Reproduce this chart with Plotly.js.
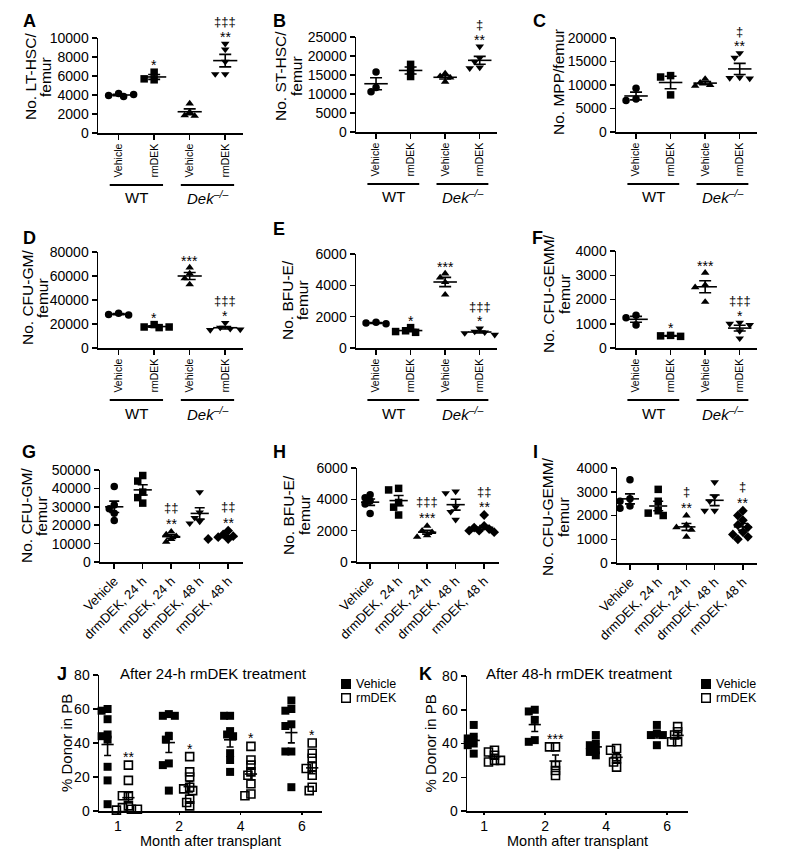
<!DOCTYPE html>
<html><head><meta charset="utf-8">
<script src="https://cdn.plot.ly/plotly-3.0.1.min.js"></script>
<style>body{margin:0;background:#fff}#chart{width:785px;height:857px}</style>
</head><body><div id="chart"></div>
<script>
// ---------- DATA ----------
const groupsAF = ["Vehicle","rmDEK","Vehicle","rmDEK"];
const groupsGI = ["Vehicle","drmDEK, 24 h","rmDEK, 24 h","drmDEK, 48 h","rmDEK, 48 h"];
const months = ["1","2","4","6"];

const ltHsc  = [[4150,3950,3850,4050],[6400,5600,5700],[3100,2200,1850,1800],[9400,8800,7500,6200,6200]];
const stHsc  = [[15800,11700,10600],[17800,16200,14600],[15400,14700,14300,13200],[22500,19500,18500,17000,16800]];
const mpp    = [[9300,7000,6700],[12000,11700,7900],[11300,10500,10000,9800],[16800,15800,11600,11500,11400]];
const cfuGmD = [[29000,28000,27500],[19500,17500,17000,17500],[67000,62000,58000,53000],[21000,17000,16000,15000,15500]];
const bfuED  = [[1650,1600,1550],[1300,1100,1000,1050],[4750,4500,4200,3400],[1250,1050,1000,950,850]];
const gemmD  = [[1350,1250,950],[520,500,480],[3100,2600,2500,1900],[1050,1000,950,700,400]];
const cfuGmG = [[41000,31000,29000,26500,22500],[47000,44000,38000,35000,32000],[16500,15000,14000,12500,11000],[38000,27000,24000,22000,21000],[17000,15000,14000,13500,13000,12500,12500,13000]];
const bfuEH  = [[4300,4100,3900,3700,3100],[4700,4600,3800,3500,3000],[2300,2000,1900,1700,1600],[4500,4400,3500,3200,2700],[3000,2300,2200,2100,2000,2000,1900,2200]];
const gemmI  = [[3500,2700,2600,2400,2300],[3100,2600,2200,2100,2000],[2000,1600,1500,1400,1100],[3400,2800,2600,2200,2200],[2200,2000,1800,1600,1500,1300,1200,1100,1000]];

const starsA=["","*","","**"], dagA=["","","","‡‡‡"];
const starsB=["","","","**"], dagB=["","","","‡"];
const starsC=["","","","**"], dagC=["","","","‡"];
const starsDEF=["","*","***","*"], dagDEF=["","","","‡‡‡"];
const starsG=["","","**","","**"], dagG=["","","‡‡","","‡‡"];
const starsH=["","","***","","**"], dagH=["","","‡‡‡","","‡‡"];
const starsI=["","","**","","**"], dagI=["","","‡","","‡"];

const jVehicle = [[60,59,54,45,44,42,26,18,4],[57,56,56,44,42,28,27,12],[56,56,47,45,44,34,30,23],[65,60,59,51,50,35,35,14]];
const jRmdek   = [[27,18,9,9,3,2,1,1,0.5],[32,23,20,14,13,12,7,5,3],[38,30,27,23,21,16,10,9],[40,34,31,26,25,21,14,12]];
const kVehicle = [[51,44,43,40,39,34],[60,59,54,42,41],[45,40,39,36,35,33],[51,46,45,45,39]];
const kRmdek   = [[36,35,33,30,29,30],[38,38,27,24,21],[37,36,31,29,26],[50,47,45,41,41]];
const starsJ = ["**","*","*","*"];
const starsK = ["","***","",""];

// ---------- LAYOUT HELPERS ----------
const W=785,H=857;
const FONT='Arial, "Liberation Sans", sans-serif';
const layout={width:W,height:H,margin:{l:0,r:0,t:0,b:0},paper_bgcolor:'#fff',plot_bgcolor:'rgba(0,0,0,0)',
  showlegend:false,font:{family:FONT,color:'#000'},annotations:[],shapes:[]};
const traces=[];
let axN=0;
const mean=a=>a.reduce((s,v)=>s+v,0)/a.length;
const sem=a=>{const m=mean(a);return Math.sqrt(a.reduce((s,v)=>s+(v-m)*(v-m),0)/(a.length-1)/a.length);};

function swarm(vals,cx,pxX,pxY,md,step){
  const placed=[],xs=[];
  vals.forEach(v=>{
    const py=v*pxY;let off=0;
    for(let k=0;k<60;k++){
      off=(k===0)?0:((k%2?-1:1)*Math.ceil(k/2)*step);
      if(placed.every(p=>Math.hypot(p[0]-off,p[1]-py)>=md))break;
    }
    placed.push([off,py]);xs.push(cx+off/pxX);
  });
  return xs;
}

function addAxes(p){
  axN++;
  const xa=axN===1?'xaxis':'xaxis'+axN, ya=axN===1?'yaxis':'yaxis'+axN;
  const xr=axN===1?'x':'x'+axN, yr=axN===1?'y':'y'+axN;
  const yt=[];for(let v=0;v<=p.ymax+1e-9;v+=p.dtick)yt.push(v);
  const common={showline:true,linewidth:1.5,linecolor:'#000',ticks:'outside',ticklen:5,tickwidth:1.5,tickcolor:'#000',
    showgrid:false,zeroline:false,fixedrange:true};
  layout[xa]=Object.assign({},common,{domain:[p.x0/W,p.x1/W],anchor:yr,range:p.xrange,tickvals:p.tickvals,ticktext:p.ticktext,
    tickangle:p.tickangle,ticklen:p.xticklen||5,tickfont:{size:p.xfs,family:FONT,color:'#000'}});
  layout[ya]=Object.assign({},common,{domain:[1-p.y1/H,1-p.y0/H],anchor:xr,range:[0,p.ymax],tickvals:yt,tickformat:'d',
    tickfont:{size:14,family:FONT,color:'#000'}});
  return {xr,yr,pxX:(p.x1-p.x0)/(p.xrange[1]-p.xrange[0]),pxY:(p.y1-p.y0)/p.ymax};
}

function addGroup(ax,vals,cx,sym,ms,hw,capw,spread,open,mdf){
  const xs=swarm(vals,cx,ax.pxX,ax.pxY,ms*(mdf||0.75),spread);
  traces.push({x:xs,y:vals,xaxis:ax.xr,yaxis:ax.yr,mode:'markers',cliponaxis:false,hoverinfo:'skip',
    marker:open?{symbol:sym,size:ms,color:'#000',line:{width:1.6,color:'#000'}}:{symbol:sym,size:ms,color:'#000',line:{width:0}}});
  const m=mean(vals),s=sem(vals);
  traces.push({x:[cx-hw,cx+hw],y:[m,m],xaxis:ax.xr,yaxis:ax.yr,mode:'lines',line:{color:'#000',width:1.6},hoverinfo:'skip',cliponaxis:false});
  traces.push({x:[cx],y:[m],xaxis:ax.xr,yaxis:ax.yr,mode:'markers',marker:{size:1,color:'rgba(0,0,0,0)'},hoverinfo:'skip',cliponaxis:false,
    error_y:{type:'data',array:[s],visible:true,color:'#000',thickness:1.6,width:capw}});
}

function sigLabel(ax,cx,top,txt,shift,size){
  if(!txt)return;
  layout.annotations.push({x:cx,y:top,xref:ax.xr,yref:ax.yr,text:txt,showarrow:false,xanchor:'center',yanchor:'middle',yshift:shift,
    font:{size:size,family:FONT,color:'#000'}});
}
function pAnn(x,y,txt,size,opts){
  layout.annotations.push(Object.assign({x:x/W,y:1-y/H,xref:'paper',yref:'paper',text:txt,showarrow:false,
    xanchor:'center',yanchor:'middle',font:{size:size,family:FONT,color:'#000'}},opts||{}));
}
const TFS=15.5;

// ---------- PANELS A-F ----------
const symAF=['circle','square','triangle-up','triangle-down'];
const panelsAF=[
 {L:'A',data:ltHsc,st:starsA,dg:dagA,ymax:10000,dtick:2000,x0:98,x1:243,y0:38,y1:133,t1:'No. LT-HSC/',t2:'femur',tx:[30,45],ty:77,lx:29,ly:21},
 {L:'B',data:stHsc,st:starsB,dg:dagB,ymax:25000,dtick:5000,x0:356,x1:497,y0:37,y1:132,t1:'No. ST-HSC/',t2:'femur',tx:[280,296],ty:76,lx:279,ly:21},
 {L:'C',data:mpp,st:starsC,dg:dagC,ymax:20000,dtick:5000,x0:616,x1:757,y0:38,y1:132,t1:'No. MPP/femur',t2:'',tx:[559],ty:82,lx:539,ly:21},
 {L:'D',data:cfuGmD,st:starsDEF,dg:dagDEF,ymax:80000,dtick:20000,x0:98,x1:243,y0:252,y1:348,t1:'No. CFU-GM/',t2:'femur',tx:[27,42],ty:298,lx:29,ly:238},
 {L:'E',data:bfuED,st:starsDEF,dg:dagDEF,ymax:6000,dtick:2000,x0:356,x1:497,y0:254,y1:348,t1:'No. BFU-E/',t2:'femur',tx:[287,302],ty:300,lx:279,ly:229},
 {L:'F',data:gemmD,st:starsDEF,dg:dagDEF,ymax:4000,dtick:1000,x0:616,x1:757,y0:251,y1:348,t1:'No. CFU-GEMM/',t2:'femur',tx:[549,565],ty:294,lx:537,ly:238},
];
panelsAF.forEach(p=>{
  const ax=addAxes(Object.assign({},p,{xrange:[-0.58,3.5],tickvals:[0,1,2,3],ticktext:groupsAF,tickangle:-90,xfs:10.5}));
  p.data.forEach((vals,g)=>{
    addGroup(ax,vals,g,symAF[g],7.5,0.34,6,5,false);
    const top=Math.max(...vals);
    sigLabel(ax,g,top,p.st[g],7,14);
    sigLabel(ax,g,top,p.dg[g],22,13);
  });
  const lineY=1-(p.y1+52)/H, txtY=p.y1+65;
  layout.shapes.push({type:'line',xref:ax.xr,yref:'paper',x0:-0.25,x1:1.25,y0:lineY,y1:lineY,line:{color:'#000',width:1.8}});
  layout.shapes.push({type:'line',xref:ax.xr,yref:'paper',x0:1.75,x1:3.25,y0:lineY,y1:lineY,line:{color:'#000',width:1.8}});
  layout.annotations.push({x:0.5,y:1-txtY/H,xref:ax.xr,yref:'paper',text:'WT',showarrow:false,xanchor:'center',yanchor:'middle',font:{size:15,family:FONT,color:'#000'}});
  layout.annotations.push({x:2.5,y:1-txtY/H,xref:ax.xr,yref:'paper',text:'<i>Dek</i><sup><i>–/–</i></sup>',showarrow:false,xanchor:'center',yanchor:'middle',font:{size:15,family:FONT,color:'#000'}});
  pAnn(p.tx[0],p.ty,p.t1,TFS,{textangle:-90});
  if(p.t2)pAnn(p.tx[1],p.ty,p.t2,TFS,{textangle:-90});
  pAnn(p.lx,p.ly,'<b>'+p.L+'</b>',18);
});

// ---------- PANELS G-I ----------
const symGI=['circle','square','triangle-up','triangle-down','diamond'];
const panelsGI=[
 {L:'G',data:cfuGmG,st:starsG,dg:dagG,ymax:50000,dtick:10000,x0:100,x1:243,y0:470,y1:562,xrange:[-0.5,4.52],t1:'No. CFU-GM/',t2:'femur',tx:[26,41],ty:516,lx:29,ly:452},
 {L:'H',data:bfuEH,st:starsH,dg:dagH,ymax:6000,dtick:2000,x0:357,x1:499,y0:468,y1:562,xrange:[-0.46,4.52],t1:'No. BFU-E/',t2:'femur',tx:[288,304],ty:515,lx:279,ly:452},
 {L:'I',data:gemmI,st:starsI,dg:dagI,ymax:4000,dtick:1000,x0:617,x1:757,y0:468,y1:563,xrange:[-0.46,4.5],t1:'No. CFU-GEMM/',t2:'femur',tx:[547,563],ty:517,lx:535,ly:452},
];
panelsGI.forEach(p=>{
  const ax=addAxes(Object.assign({},p,{tickvals:[0,1,2,3,4],ticktext:groupsGI,tickangle:-45,xfs:13}));
  p.data.forEach((vals,g)=>{
    addGroup(ax,vals,g,symGI[g],7.5,0.32,5,5,false);
    const top=Math.max(...vals);
    sigLabel(ax,g,top,p.st[g],8,14);
    sigLabel(ax,g,top,p.dg[g],24,13);
  });
  pAnn(p.tx[0],p.ty,p.t1,TFS,{textangle:-90});
  pAnn(p.tx[1],p.ty,p.t2,TFS,{textangle:-90});
  pAnn(p.lx,p.ly,'<b>'+p.L+'</b>',18);
});

// ---------- PANELS J-K ----------
const panelsJK=[
 {L:'J',veh:jVehicle,rm:jRmdek,st:starsJ,x0:99,x1:322,y0:675,y1:811,xrange:[-0.31,3.33],title:'After 24-h rmDEK treatment',titx:213,tyx:66,lx:62,legx:341},
 {L:'K',veh:kVehicle,rm:kRmdek,st:starsK,x0:467,x1:688,y0:676,y1:811,xrange:[-0.28,3.34],title:'After 48-h rmDEK treatment',titx:579,tyx:430,lx:425,legx:701},
];
panelsJK.forEach(p=>{
  const ax=addAxes(Object.assign({},p,{ymax:80,dtick:20,tickvals:[0,1,2,3],ticktext:months,tickangle:0,xfs:14,xticklen:2}));
  const off=0.17;
  months.forEach((m,g)=>{
    addGroup(ax,p.veh[g],g-off,'square',8,0.1,3.5,3,false,0.55);
    addGroup(ax,p.rm[g],g+off,'square-open',8,0.1,3.5,3,true,0.55);
    sigLabel(ax,g+off,Math.max(...p.rm[g]),p.st[g],8,14);
  });
  const cx=(p.x0+p.x1)/2;
  pAnn(cx,841,'Month after transplant',14.5);
  pAnn(p.tyx,(p.y0+p.y1)/2,'% Donor in PB',15,{textangle:-90});
  pAnn(p.titx,673,p.title,15);
  pAnn(p.lx,674,'<b>'+p.L+'</b>',18);
  // legend
  layout.shapes.push({type:'rect',xref:'paper',yref:'paper',x0:p.legx/W,x1:(p.legx+10)/W,y0:1-689/H,y1:1-679/H,fillcolor:'#000',line:{width:0}});
  layout.shapes.push({type:'rect',xref:'paper',yref:'paper',x0:(p.legx+0.7)/W,x1:(p.legx+9.3)/W,y0:1-702.3/H,y1:1-693.7/H,fillcolor:'rgba(0,0,0,0)',line:{width:1.4,color:'#000'}});
  pAnn(p.legx+13,684,'Vehicle',12.5,{xanchor:'left'});
  pAnn(p.legx+13,698,'rmDEK',12.5,{xanchor:'left'});
});

Plotly.newPlot('chart',traces,layout,{staticPlot:true,displayModeBar:false});
</script></body></html>
